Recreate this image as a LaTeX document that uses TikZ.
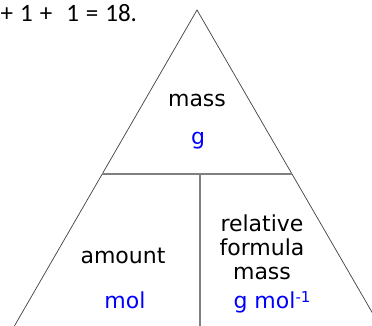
\documentclass[tikz,border=0pt]{standalone}
\usepackage{fontspec}
\setmainfont{DejaVu Sans}
\newfontfamily\topfont{Carlito}
\newcommand{\gap}{\hspace{7pt}}
\begin{document}
\begin{tikzpicture}[x=1pt,y=-1pt,
  lbl/.style={font=\fontsize{22}{24}\selectfont, inner sep=0pt, anchor=base},
  unit/.style={lbl, text=blue},
  edge/.style={draw=black!75, line width=0.7pt},
  divider/.style={draw=black!50, line width=1.4pt}]
\useasboundingbox (0,0) rectangle (372,326);
\fill[white] (0,0) rectangle (372,326);
\begin{scope}
\clip (0,0) rectangle (372,326);
\coordinate (apex) at (197,10);
\coordinate (bl) at (14.4,326);
\coordinate (br) at (380,326);
\coordinate (hl) at (102,174);
\coordinate (hr) at (292,174);
\coordinate (vt) at (200,174);
\coordinate (vb) at (200,326);
\draw[edge] (bl) -- (apex) -- (br);
\draw[divider] (hl) -- (hr);
\draw[divider] (vt) -- (vb);
\end{scope}
\node[inner sep=0pt, anchor=base west, font=\topfont\fontsize{25}{27}\selectfont] (eq) at (0.5,22) {+\gap 1\gap +\gap\gap 1\gap =\gap 18.};
\node[lbl] (mass) at (197,107) {mass};
\node[unit] (g) at (198,145) {g};
\node[lbl] (amount) at (123,263) {amount};
\node[unit] (mol) at (125,308) {mol};
\node[lbl] (rel) at (262,231) {relative};
\node[lbl] (form) at (262,255) {formula};
\node[lbl] (rmass) at (262,279) {mass};
\node[unit] (gmol) at (272,308) {g mol\raisebox{6pt}{\fontsize{15}{15}\selectfont -1}};
\end{tikzpicture}
\end{document}
